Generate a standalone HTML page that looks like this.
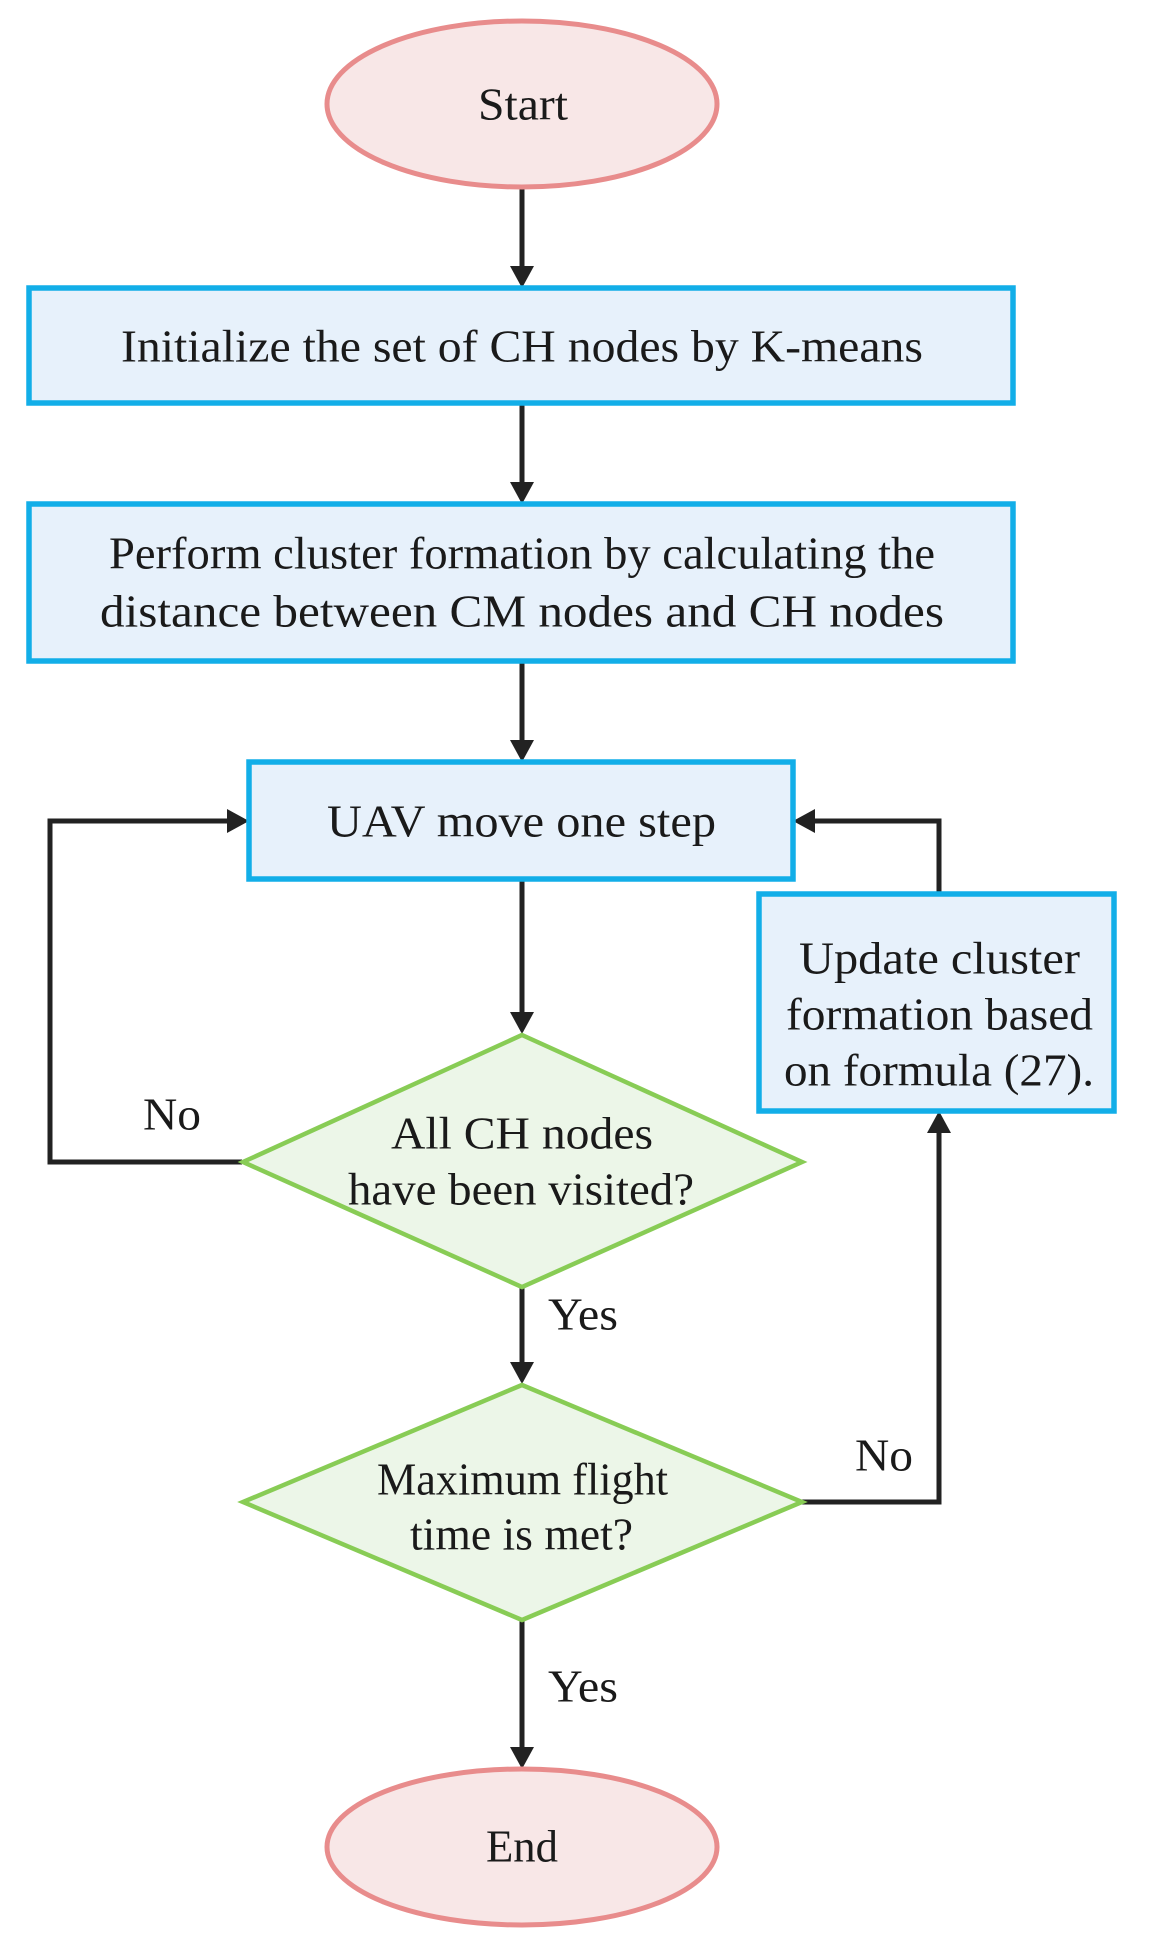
<!DOCTYPE html>
<html><head><meta charset="utf-8"><style>
html,body{margin:0;padding:0;background:#fff;}
svg{display:block;}
text{font-family:"Liberation Serif",serif;fill:#1a1a1a;font-size:46px;}
</style></head><body>
<svg width="1149" height="1959" viewBox="0 0 1149 1959" xmlns="http://www.w3.org/2000/svg">
<g stroke="#222" stroke-width="5" fill="none">
<line x1="522" y1="188" x2="522" y2="268"/>
<line x1="522" y1="403" x2="522" y2="484"/>
<line x1="522" y1="661" x2="522" y2="742"/>
<line x1="522" y1="879" x2="522" y2="1014"/>
<line x1="522" y1="1288" x2="522" y2="1364"/>
<line x1="522" y1="1620" x2="522" y2="1749"/>
<polyline points="242,1162 50,1162 50,821 229,821"/>
<polyline points="802,1502 939,1502 939,1131"/>
<polyline points="939,894 939,821 813,821"/>
</g>
<g fill="#222">
<polygon points="510,266 534,266 522,288"/>
<polygon points="510,482 534,482 522,504"/>
<polygon points="510,740 534,740 522,762"/>
<polygon points="510,1012 534,1012 522,1034"/>
<polygon points="510,1362 534,1362 522,1384"/>
<polygon points="510,1747 534,1747 522,1769"/>
<polygon points="227,809 227,833 249,821"/>
<polygon points="815,809 815,833 793,821"/>
<polygon points="927,1133 951,1133 939,1111"/>
</g>
<ellipse cx="522" cy="104" rx="195" ry="83" fill="#f8e7e7" stroke="#e88c8c" stroke-width="5"/>
<ellipse cx="522" cy="1847" rx="195" ry="78" fill="#f8e7e7" stroke="#e88c8c" stroke-width="5"/>
<g fill="#e7f1fb" stroke="#12aee8" stroke-width="5.5">
<rect x="29" y="288" width="984" height="115"/>
<rect x="29" y="504" width="984" height="157"/>
<rect x="249" y="762" width="544" height="117"/>
<rect x="759" y="894" width="355" height="217"/>
</g>
<g fill="#ecf6e8" stroke="#88cc55" stroke-width="4.5">
<polygon points="522,1035 802,1162 522,1287 243,1162"/>
<polygon points="522,1385 802,1502 522,1620 243,1502"/>
</g>
<g dominant-baseline="central">
<text x="478" y="104" textLength="90" lengthAdjust="spacingAndGlyphs">Start</text>
<text x="486" y="1846" textLength="72" lengthAdjust="spacingAndGlyphs">End</text>
<text x="121" y="346" textLength="802" lengthAdjust="spacingAndGlyphs">Initialize the set of CH nodes by K-means</text>
<text x="109" y="553" textLength="826" lengthAdjust="spacingAndGlyphs">Perform cluster formation by calculating the</text>
<text x="100" y="611" textLength="844" lengthAdjust="spacingAndGlyphs">distance between CM nodes and CH nodes</text>
<text x="327" y="821" textLength="389" lengthAdjust="spacingAndGlyphs">UAV move one step</text>
<text x="799" y="958" textLength="281" lengthAdjust="spacingAndGlyphs">Update cluster</text>
<text x="786" y="1014" textLength="307" lengthAdjust="spacingAndGlyphs">formation based</text>
<text x="784" y="1070" textLength="310" lengthAdjust="spacingAndGlyphs">on formula (27).</text>
<text x="391" y="1133" textLength="262" lengthAdjust="spacingAndGlyphs">All CH nodes</text>
<text x="348" y="1189" textLength="346" lengthAdjust="spacingAndGlyphs">have been visited?</text>
<text x="377" y="1479" textLength="291" lengthAdjust="spacingAndGlyphs">Maximum flight</text>
<text x="410" y="1534" textLength="223" lengthAdjust="spacingAndGlyphs">time is met?</text>
<text x="143" y="1114" textLength="58" lengthAdjust="spacingAndGlyphs">No</text>
<text x="548" y="1314" textLength="70" lengthAdjust="spacingAndGlyphs">Yes</text>
<text x="855" y="1455" textLength="58" lengthAdjust="spacingAndGlyphs">No</text>
<text x="548" y="1686" textLength="70" lengthAdjust="spacingAndGlyphs">Yes</text>
</g>
</svg>
</body></html>
